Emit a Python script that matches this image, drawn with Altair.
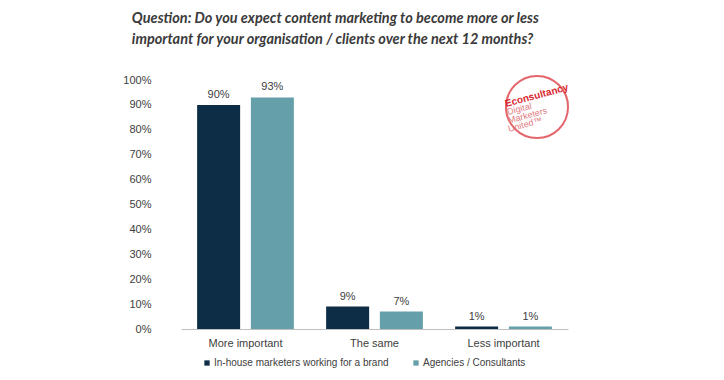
import altair as alt
import pandas as pd

categories = ["More important", "The same", "Less important"]
series = ["In-house marketers working for a brand", "Agencies / Consultants"]
inhouse = [0.90, 0.09, 0.01]
agencies = [0.93, 0.07, 0.01]
colors = ["#0c2d45", "#659faa"]
y_ticks = [i / 10 for i in range(11)]
title_lines = [
    "Question: Do you expect content marketing to become more or less",
    "important for your organisation / clients over the next 12 months?",
]
logo_lines = ["Econsultancy", "Digital", "Marketers", "United\u2122"]

rows = []
for c, a, b in zip(categories, inhouse, agencies):
    rows.append({"category": c, "series": series[0], "value": a})
    rows.append({"category": c, "series": series[1], "value": b})
df = pd.DataFrame(rows)

FONT = "Liberation Sans"
TXT = "#404040"

base = alt.Chart(df).encode(
    x=alt.X(
        "category:N",
        sort=categories,
        scale=alt.Scale(paddingInner=0.25, paddingOuter=0.125),
        axis=alt.Axis(
            title=None, labelAngle=0, ticks=False, domainColor="#bfbfbf",
            labelPadding=8, labelFontSize=11, labelColor=TXT, labelFont=FONT,
        ),
    ),
    xOffset=alt.XOffset("series:N", sort=series, scale=alt.Scale(paddingInner=0.2)),
    y=alt.Y(
        "value:Q",
        scale=alt.Scale(domain=[0, 1]),
        axis=alt.Axis(
            title=None, values=y_ticks, format=".0%", ticks=False, domain=False,
            grid=False, labelPadding=30, labelFontSize=11, labelColor=TXT, labelFont=FONT,
        ),
    ),
)

bars = base.mark_bar().encode(
    color=alt.Color(
        "series:N",
        sort=series,
        scale=alt.Scale(domain=series, range=colors),
        legend=alt.Legend(
            title=None, orient="none", legendX=21, legendY=278, direction="horizontal",
            symbolType="square", symbolSize=28, labelFontSize=10, labelFont=FONT,
            labelColor=TXT, columnPadding=22, labelOffset=2, symbolStrokeWidth=0,
            labelLimit=0,
        ),
    )
)

labels = base.mark_text(baseline="bottom", dy=-5, fontSize=11, font=FONT, color=TXT).encode(
    text=alt.Text("value:Q", format=".0%")
)

# logo (decoration)
logo_df = pd.DataFrame({"t": [""]})
circle = alt.Chart(logo_df).mark_point(
    shape="circle", size=3850, filled=False, stroke="#d9262e", strokeWidth=2
).encode(x=alt.value(356), y=alt.value(27))

logo_pos = [(325, 27), (327, 35), (328, 43.5), (328, 52)]
logo_layers = []
for i, (line, (px, py)) in enumerate(zip(logo_lines, logo_pos)):
    ldf = pd.DataFrame({"t": [line]})
    logo_layers.append(
        alt.Chart(ldf).mark_text(
            align="left", baseline="alphabetic", angle=345,
            fontSize=10 if i == 0 else 9,
            fontWeight="bold" if i == 0 else "normal",
            font=FONT, color="#d9262e" if i == 0 else "#e07a80",
        ).encode(x=alt.value(px), y=alt.value(py), text="t:N")
    )

chart = alt.layer(bars, labels, circle, *logo_layers).properties(
    width=387,
    height=249,
    title=alt.TitleParams(
        text=title_lines, anchor="start", font="Lato", fontStyle="italic",
        fontWeight="bold", fontSize=14.5, color="#3a3a3a", dx=9, lineHeight=21, dy=-20,
    ),
    autosize=alt.AutoSizeParams(type="none"),
    padding={"left": 173, "top": 72, "right": 148, "bottom": 43},
).configure_view(stroke=None)

chart.save("out.html", embed_options={"renderer": "svg", "actions": False})
